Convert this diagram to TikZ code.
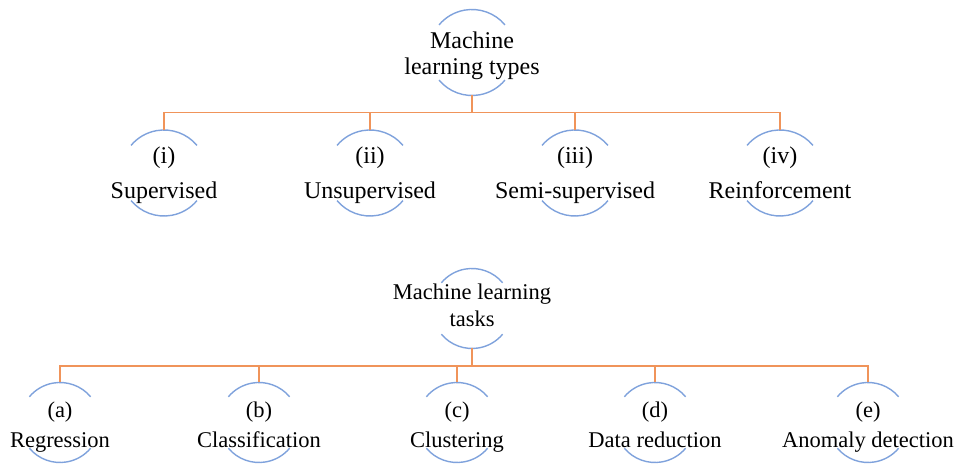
\documentclass[tikz,border=0pt]{standalone}
\usepackage{fontspec}
\setmainfont{Liberation Serif}
\definecolor{linkorange}{HTML}{F0945A}
\definecolor{ringblue}{HTML}{7FA2DC}
\newcommand\ringarcs[2]{%
  \draw[ringline] (#1.40) arc[start angle=40,end angle=140,radius=#2];
  \draw[ringline] (#1.220) arc[start angle=220,end angle=320,radius=#2];}
\begin{document}
\begin{tikzpicture}[x=1pt,y=1pt,
  ringline/.style={draw=ringblue,line width=1.4pt},
  link/.style={draw=linkorange,line width=1.3pt,line join=miter},
  bigring/.style={circle,minimum size=86pt,inner sep=0pt,outer sep=0pt},
  smallring/.style={circle,minimum size=80pt,inner sep=0pt,outer sep=0pt},
  fonta/.style={font=\fontsize{24}{26}\selectfont},
  fontb/.style={font=\fontsize{22.5}{27}\selectfont},
  lbl/.style={anchor=base,inner sep=0pt}]
\useasboundingbox (0,0) rectangle (958,465);

% ---- machine learning types ----
\node[bigring] (types) at (472,412.5) {};
\node[fonta,align=center,inner sep=0pt] (typestxt) at (472,408.8) {Machine\\learning types};
\foreach \n/\x/\num/\name in {sup/164/(i)/Supervised, uns/370/(ii)/Unsupervised,
    semi/575/(iii)/Semi-supervised, rei/780/(iv)/Reinforcement}{
  \node[bigring] (\n) at (\x,292) {};
  \node[fonta,lbl] (\n-num) at (\x,301) {\num};
  \node[fonta,lbl] (\n-name) at (\x,266) {\name};
}
\foreach \n in {types,sup,uns,semi,rei}{\ringarcs{\n}{43pt}}

\coordinate (bar1) at ([yshift=-17pt]types.south);
\draw[link] (types.south) -- (bar1);
\draw[link] (sup.north) -- (sup.north |- bar1) -- (rei.north |- bar1) -- (rei.north);
\draw[link] (uns.north) -- (uns.north |- bar1);
\draw[link] (semi.north) -- (semi.north |- bar1);

% ---- machine learning tasks ----
\node[smallring] (tasks) at (472,156.5) {};
\node[fontb,align=center,inner sep=0pt] (taskstxt) at (472,159.8) {Machine learning\\tasks};
\foreach \n/\x/\num/\name in {reg/60/(a)/Regression, cls/259/(b)/Classification,
    clu/457/(c)/Clustering, red/655/(d)/Data reduction, ano/868/(e)/Anomaly detection}{
  \node[smallring] (\n) at (\x,42.5) {};
  \node[fontb,lbl] (\n-num) at (\x,47) {\num};
  \node[fontb,lbl] (\n-name) at (\x,17) {\name};
}
\foreach \n in {tasks,reg,cls,clu,red,ano}{\ringarcs{\n}{40pt}}

\coordinate (bar2) at ([yshift=-17.5pt]tasks.south);
\draw[link] (tasks.south) -- (bar2);
\draw[link] (reg.north) -- (reg.north |- bar2) -- (ano.north |- bar2) -- (ano.north);
\draw[link] (cls.north) -- (cls.north |- bar2);
\draw[link] (clu.north) -- (clu.north |- bar2);
\draw[link] (red.north) -- (red.north |- bar2);
\end{tikzpicture}
\end{document}
